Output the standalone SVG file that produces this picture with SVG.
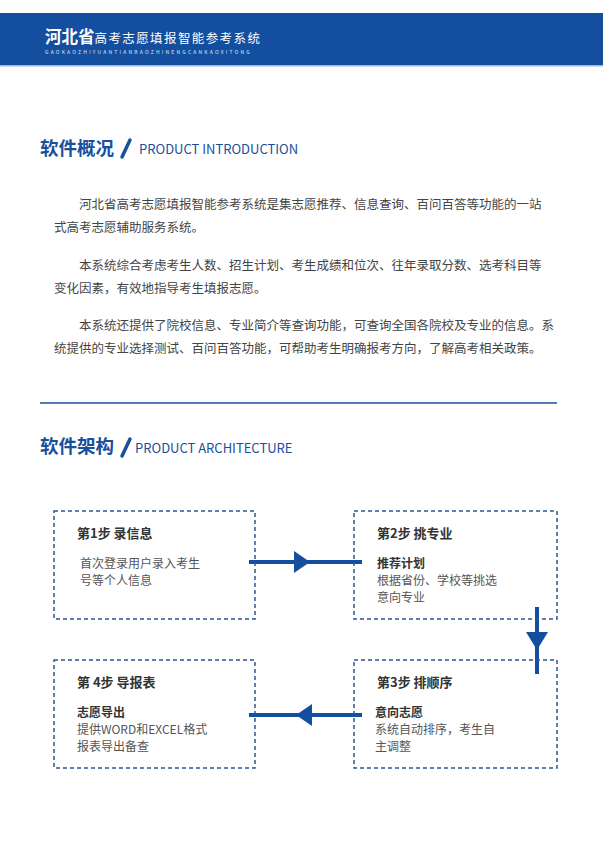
<svg xmlns="http://www.w3.org/2000/svg" width="603" height="853" viewBox="0 0 603 853">
<style>
.t{font-family:"Noto Sans CJK SC","Liberation Sans",sans-serif;}
.p{font-size:12.5px;fill:#444;}
.h{font-size:18.5px;font-weight:bold;fill:#1a4f9c;}
.en{font-size:13px;fill:#1a4f9c;}
.box{fill:none;stroke:#2b5597;stroke-width:1.5;stroke-dasharray:4 3;}
.bt{font-size:13px;font-weight:bold;fill:#333;}
.bs{font-size:12px;font-weight:bold;fill:#333;}
.bd{font-size:12px;fill:#555;}
.ar{stroke:#144e9e;stroke-width:4;fill:none;}
.ah{fill:#144e9e;}
</style>
<rect width="603" height="853" fill="#fff"/>
<rect x="0" y="13" width="603" height="52" fill="#144e9e"/>
<rect x="0" y="65" width="603" height="1.5" fill="#9ab8e0"/>
<text class="t" x="45" y="43" fill="#fff" font-size="16.5" font-weight="bold">河北省<tspan font-size="12.5" font-weight="normal" letter-spacing="1.4">高考志愿填报智能参考系统</tspan></text>
<text class="t" x="45" y="54" fill="#dfe8f5" font-size="5" letter-spacing="2.2">GAOKAOZHIYUANTIANBAOZHINENGCANKAOXITONG</text>
<text class="t h" x="40" y="155">软件概况</text>
<line x1="122" y1="157" x2="130" y2="140" stroke="#1a4f9c" stroke-width="3.5" stroke-linecap="round"/>
<text class="t en" x="139" y="154">PRODUCT INTRODUCTION</text>
<g class="t p">
<text x="79" y="209">河北省高考志愿填报智能参考系统是集志愿推荐、信息查询、百问百答等功能的一站</text>
<text x="54" y="232">式高考志愿辅助服务系统。</text>
<text x="79" y="270">本系统综合考虑考生人数、招生计划、考生成绩和位次、往年录取分数、选考科目等</text>
<text x="54" y="293">变化因素，有效地指导考生填报志愿。</text>
<text x="79" y="330">本系统还提供了院校信息、专业简介等查询功能，可查询全国各院校及专业的信息。系</text>
<text x="54" y="353">统提供的专业选择测试、百问百答功能，可帮助考生明确报考方向，了解高考相关政策。</text>
</g>
<line x1="40" y1="403" x2="557" y2="403" stroke="#1a4f9c" stroke-width="1.5"/>
<text class="t h" x="40" y="453">软件架构</text>
<line x1="122" y1="456" x2="130" y2="439" stroke="#1a4f9c" stroke-width="3.5" stroke-linecap="round"/>
<text class="t en" x="135" y="453">PRODUCT ARCHITECTURE</text>
<g id="connectors">
<line class="ar" x1="249" y1="562" x2="362" y2="562"/>
<polygon class="ah" points="294,551 310,562 294,573"/>
<line class="ar" x1="537" y1="607" x2="537" y2="674"/>
<polygon class="ah" points="526,632 548,632 537,650"/>
<line class="ar" x1="249" y1="715" x2="362" y2="715"/>
<polygon class="ah" points="312,704 296,715 312,726"/>
</g>
<g id="step1"><rect class="box" x="54" y="511" width="201" height="108"/>
<text class="t bt" x="77" y="538">第1步 录信息</text>
<text class="t bd" x="80" y="568">首次登录用户录入考生</text><text class="t bd" x="80" y="585">号等个人信息</text></g>
<g id="step2"><rect class="box" x="354" y="511" width="203" height="108"/>
<text class="t bt" x="377" y="538">第2步 挑专业</text>
<text class="t bs" x="377" y="568">推荐计划</text>
<text class="t bd" x="377" y="585">根据省份、学校等挑选</text><text class="t bd" x="377" y="602">意向专业</text></g>
<g id="step3"><rect class="box" x="354" y="660" width="203" height="108"/>
<text class="t bt" x="377" y="687">第3步 排顺序</text>
<text class="t bs" x="375" y="717">意向志愿</text>
<text class="t bd" x="375" y="734">系统自动排序，考生自</text><text class="t bd" x="375" y="751">主调整</text></g>
<g id="step4"><rect class="box" x="54" y="660" width="201" height="108"/>
<text class="t bt" x="77" y="687">第 4步 导报表</text>
<text class="t bs" x="77" y="717">志愿导出</text>
<text class="t bd" x="77" y="734">提供WORD和EXCEL格式</text><text class="t bd" x="77" y="751">报表导出备查</text></g>
</svg>
